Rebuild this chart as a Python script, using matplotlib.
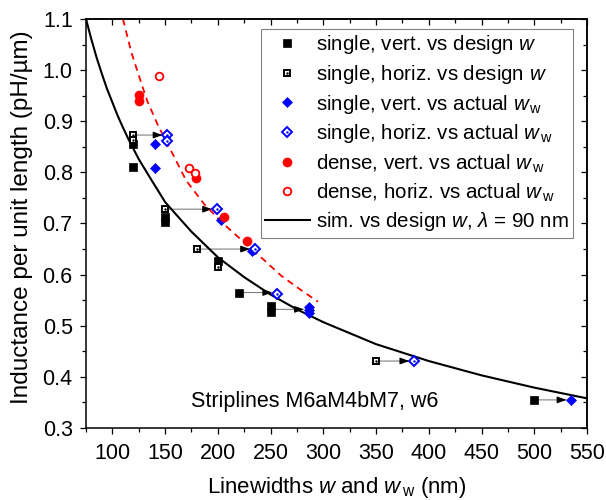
import matplotlib
matplotlib.use("Agg")
import matplotlib.pyplot as plt
from matplotlib.ticker import MultipleLocator, FormatStrFormatter

plt.rcParams['font.family'] = ['Liberation Sans', 'DejaVu Sans']
plt.rcParams['mathtext.fontset'] = 'custom'
plt.rcParams['mathtext.rm'] = 'Liberation Sans'
plt.rcParams['mathtext.it'] = 'Liberation Sans:italic'

# single lines, plotted against design width w
sq_fill_w = [120, 120, 150, 150, 200, 220, 250, 250, 500]
sq_fill_L = [0.855, 0.811, 0.713, 0.703, 0.627, 0.565, 0.538, 0.527, 0.355]
sq_open_w = [120, 120, 150, 180, 200, 350]
sq_open_L = [0.873, 0.864, 0.728, 0.650, 0.614, 0.431]

# single lines, plotted against actual width w_w
dia_fill_ww = [140, 140, 203, 232, 286, 286, 286, 535]
dia_fill_L = [0.855, 0.809, 0.706, 0.646, 0.537, 0.531, 0.525, 0.355]
dia_open_ww = [152, 152, 199, 235, 256, 386]
dia_open_L = [0.873, 0.862, 0.728, 0.651, 0.563, 0.431]

# dense lines, actual width
red_fill_ww = [125, 125, 179, 206, 228]
red_fill_L = [0.951, 0.940, 0.789, 0.712, 0.666]
red_open_ww = [144, 173, 178]
red_open_L = [0.988, 0.808, 0.799]

# shift from design to actual width
arrow_from = [120, 150, 180, 220, 250, 350, 500]
arrow_to = [152, 199, 235, 256, 286, 386, 535]
arrow_L = [0.873, 0.728, 0.650, 0.565, 0.532, 0.431, 0.355]

# simulation, lambda = 90 nm
sim_w = [75, 80, 85, 90, 95, 100, 105, 110, 115, 125, 135, 150, 165, 175,
         200, 225, 250, 275, 300, 350, 400, 450, 500, 550]
sim_L = [1.100, 1.061, 1.025, 0.993, 0.963, 0.937, 0.911, 0.888, 0.866,
         0.826, 0.792, 0.742, 0.707, 0.684, 0.634, 0.595, 0.561, 0.532,
         0.507, 0.464, 0.431, 0.403, 0.379, 0.358]

# fit through the dense points
fit_ww = [110, 118, 125, 133, 143, 152, 170, 187, 205, 225, 243, 260, 278, 295]
fit_L = [1.100, 1.035, 0.990, 0.940, 0.893, 0.857, 0.784, 0.738, 0.700,
         0.663, 0.630, 0.598, 0.571, 0.547]

fig = plt.figure(figsize=(6.06, 5.0), dpi=100)
ax = fig.add_axes([0.1419, 0.144, 0.8267, 0.818])

for x0, x1, y in zip(arrow_from, arrow_to, arrow_L):
    ax.annotate('', xy=(x1, y), xytext=(x0, y),
                arrowprops=dict(arrowstyle='-', color='gray', lw=0.8,
                                shrinkA=0, shrinkB=3.5), zorder=2)
    ax.annotate('', xy=(x1, y), xytext=(-9, 0), textcoords='offset points',
                arrowprops=dict(arrowstyle='-|>,head_length=0.55,head_width=0.2',
                                color='black', lw=0.8, shrinkA=0, shrinkB=3.4),
                zorder=2)

ax.plot(fit_ww, fit_L, color='red', lw=1.3, dashes=(3.7, 2.8), zorder=2)
sim, = ax.plot(sim_w, sim_L, color='black', lw=1.5, zorder=2)

h1, = ax.plot(sq_fill_w, sq_fill_L, 's', color='black', ms=5.5, mew=0.5, zorder=3)
h2a, = ax.plot(sq_open_w, sq_open_L, 's', mfc='white', mec='black', ms=4.3, mew=1.4, zorder=3)
h2b, = ax.plot(sq_open_w, sq_open_L, '.', color='black', ms=1.5, zorder=3)
h3, = ax.plot(dia_fill_ww, dia_fill_L, 'D', color='blue', ms=5.2, mew=0.5, zorder=3)
h4a, = ax.plot(dia_open_ww, dia_open_L, 'D', mfc='white', mec='blue', ms=5.0, mew=1.4, zorder=3)
h4b, = ax.plot(dia_open_ww, dia_open_L, '.', color='blue', ms=1.5, zorder=3)
h5, = ax.plot(red_fill_ww, red_fill_L, 'o', color='red', ms=6.5, mew=0.5, zorder=3)
h6, = ax.plot(red_open_ww, red_open_L, 'o', mfc='white', mec='red', ms=5.5, mew=1.3, zorder=3)

ax.set_xlim(75, 550)
ax.set_ylim(0.3, 1.1)
ax.xaxis.set_major_locator(MultipleLocator(50))
ax.xaxis.set_minor_locator(MultipleLocator(25))
ax.yaxis.set_major_locator(MultipleLocator(0.1))
ax.yaxis.set_minor_locator(MultipleLocator(0.05))
ax.yaxis.set_major_formatter(FormatStrFormatter('%.1f'))
ax.tick_params(which='both', direction='out', width=0.9, labelsize=15.5)
ax.tick_params(axis='x', pad=6.5)
ax.tick_params(axis='y', pad=5.3)
ax.tick_params(which='major', length=4.3)
ax.tick_params(which='minor', length=2.8)
for s in ax.spines.values():
    s.set_linewidth(1.1)

# top and right axes with inward ticks, no labels
top = ax.secondary_xaxis('top')
top.xaxis.set_major_locator(MultipleLocator(50))
top.xaxis.set_minor_locator(MultipleLocator(25))
right = ax.secondary_yaxis('right')
right.yaxis.set_major_locator(MultipleLocator(0.1))
right.yaxis.set_minor_locator(MultipleLocator(0.05))
for sec in (top, right):
    sec.tick_params(which='both', direction='in', width=0.9, labelleft=False,
                    labelright=False, labeltop=False, labelbottom=False)
    sec.tick_params(which='major', length=4.3)
    sec.tick_params(which='minor', length=2.8)
    for s in sec.spines.values():
        s.set_linewidth(1.1)

ax.set_xlabel(r'Linewidths $w$ and $w_{\,\mathrm{w}}$ (nm)', fontsize=16, labelpad=8)
ax.set_ylabel('Inductance per unit length (pH/\u00b5m)', fontsize=17.5)
ax.yaxis.set_label_coords(-0.106, 0.515)

ax.text(0.457, 0.064, 'Striplines M6aM4bM7, w6', transform=ax.transAxes,
        ha='center', va='center', fontsize=15.5)

leg = ax.legend([h1, (h2a, h2b), h3, (h4a, h4b), h5, h6, sim],
                [r'single, vert. vs design $w$',
                 r'single, horiz. vs design $w$',
                 r'single, vert. vs actual $w_{\,\mathrm{w}}$',
                 r'single, horiz. vs actual $w_{\,\mathrm{w}}$',
                 r'dense, vert. vs actual $w_{\,\mathrm{w}}$',
                 r'dense, horiz. vs actual $w_{\,\mathrm{w}}$',
                 r'sim. vs design $w$, $\lambda$ = 90 nm'],
                loc='upper right', bbox_to_anchor=(0.972, 0.9756),
                fontsize=14.8, frameon=True, fancybox=False,
                edgecolor='gray', framealpha=1, handlelength=2.2,
                handletextpad=0.3, borderpad=0.2, labelspacing=0.33,
                borderaxespad=0)
leg.get_frame().set_linewidth(0.8)

fig.savefig('out.png', dpi=100)
